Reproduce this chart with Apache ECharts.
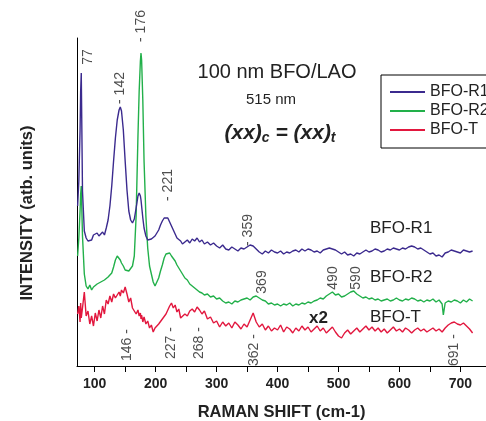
<!DOCTYPE html>
<html>
<head>
<meta charset="utf-8">
<script src="https://cdn.jsdelivr.net/npm/echarts@6/dist/echarts.min.js"></script>
<style>
  html, body { margin: 0; padding: 0; background: #fff; }
  #chart { width: 486px; height: 421px; }
</style>
</head>
<body>
<div id="chart"></div>
<script>
// Raman shift (cm-1)
const shift = [
  72, 74, 76, 77, 78, 80, 83, 86, 89, 92,
  95, 98, 101, 104, 107, 110, 113, 116, 119, 122,
  125, 128, 131, 134, 137, 140, 142, 144, 147, 150,
  153, 156, 159, 162, 165, 168, 171, 173, 175, 176,
  177, 179, 181, 184, 187, 190, 193, 196, 199, 202,
  205, 208, 211, 214, 217, 220, 223, 226, 229, 232,
  235, 238, 241, 244, 248, 252, 256, 260, 264, 268,
  272, 276, 280, 285, 290, 295, 300, 305, 310, 315,
  320, 325, 330, 335, 340, 345, 350, 355, 360, 365,
  370, 375, 380, 385, 390, 395, 400, 405, 410, 415,
  420, 425, 430, 435, 440, 445, 450, 455, 460, 465,
  470, 475, 480, 485, 490, 495, 500, 505, 510, 515,
  520, 525, 530, 535, 540, 545, 550, 555, 560, 565,
  570, 575, 580, 585, 590, 595, 600, 605, 610, 615,
  620, 625, 630, 635, 640, 645, 650, 655, 660, 665,
  670, 672, 675, 680, 685, 690, 695, 700, 705, 710,
  715, 720
]

// intensities (arb. units, curves offset as in the figure)
const bfoR1 = [
  160, 185, 235, 275, 293, 175, 135, 128, 125, 127,
  126, 131, 129, 133, 130, 128, 134, 131, 138, 146,
  160, 180, 205, 228, 246, 256, 259, 255, 236, 205,
  176, 155, 146, 143, 147, 158, 170, 173, 170, 166,
  160, 148, 138, 130, 126, 124, 127, 125, 130, 133,
  136, 141, 145, 148, 149, 148, 144, 140, 136, 132,
  128, 127, 125, 122, 124, 126, 123, 127, 125, 128,
  124, 126, 122, 124, 121, 123, 120, 118, 121, 117,
  116, 119, 117, 115, 118, 117, 119, 121, 120, 117,
  114, 112, 115, 113, 116, 114, 113, 115, 112, 114,
  113, 115, 116, 114, 117, 115, 117, 116, 114, 115,
  113, 116, 117, 118, 117, 116, 114, 112, 114, 111,
  112, 110, 113, 112, 114, 116, 114, 115, 117, 116,
  114, 115, 117, 116, 118, 117, 116, 118, 117, 119,
  120, 119, 117, 118, 116, 114, 112, 113, 110, 111,
  109, 111, 113, 114, 116, 115, 114, 113, 116, 115,
  114, 115
]

const bfoR2 = [
  110, 128, 155, 172, 180, 130, 92, 80, 77, 81,
  76, 79, 78, 82, 80, 84, 82, 86, 85, 89,
  88, 93, 99, 106, 110, 109, 106, 103, 100, 96,
  94, 95, 97, 100, 110, 150, 230, 275, 305, 313,
  306, 265, 205, 150, 118, 100, 92, 84, 80, 82,
  88, 95, 101, 108, 112, 114, 113, 110, 108, 105,
  101, 98, 95, 92, 88, 86, 82, 80, 78, 76,
  74, 73, 71, 72, 69, 70, 67, 68, 65, 63,
  64, 62, 65, 64, 66, 67, 68, 66, 69, 70,
  68, 66, 65, 62, 63, 61, 62, 60, 62, 61,
  63, 60, 62, 61, 63, 62, 64, 63, 65, 66,
  68, 67, 70, 72, 74, 71, 72, 69, 70, 72,
  74, 75, 72, 70, 68, 69, 67, 68, 66, 67,
  65, 66, 67, 65, 66, 68, 66, 65, 67, 66,
  68, 67, 65, 66, 64, 66, 65, 67, 64, 66,
  62, 51, 63, 65, 64, 66, 65, 63, 66, 64,
  67, 65
]

const bfoT = [
  52, 60, 44, 63, 48, 58, 74, 50, 55, 42,
  50, 40, 53, 45, 56, 48, 60, 52, 66, 62,
  70, 64, 72, 68, 66, 74, 70, 76, 73, 79,
  72, 64, 68, 58, 60, 52, 56, 50, 53, 47,
  51, 44, 49, 42, 45, 38, 41, 34, 38, 36,
  42, 40, 47, 45, 52, 56, 60, 63, 58, 61,
  54, 57, 48, 46, 52, 50, 55, 57, 54, 59,
  56, 52, 55, 47, 49, 43, 45, 39, 44, 40,
  43, 38, 44, 41, 37, 42, 39, 46, 53, 44,
  39, 42, 36, 40, 35, 38, 36, 41, 34, 39,
  37, 33, 38, 35, 40, 36, 39, 34, 37, 40,
  35, 38, 33, 36, 39, 34, 30, 28, 33, 36,
  32, 35, 38, 34, 37, 40, 36, 39, 35, 38,
  34, 37, 33, 36, 39, 35, 37, 34, 38, 36,
  33, 36, 38, 35, 37, 34, 36, 38, 35, 37,
  34, 36, 38, 41, 43, 44, 42, 41, 43, 40,
  37, 33
]

// peak annotations (text, shift, intensity)
const peakText = ['77', '- 142', '- 176', '- 221', '- 359', '369', '490', '590', '146 -', '227 -', '268 -', '362 -', '691 -']
const peakX = [90, 142, 177, 221, 352, 375, 492, 529, 154, 226, 272, 362, 690]
const peakY = [309, 278, 340, 181, 136, 84, 88, 88, 21, 23, 23, 16, 16]

const xTicks = [100, 150, 200, 250, 300, 350, 400, 450, 500, 550, 600, 650, 700]
const xLabels = [100, 200, 300, 400, 500, 600, 700]

const font = 'Liberation Sans'
const ink = '#222'

const pairs = (ys) => shift.map((x, i) => [x, ys[i]])

const chart = echarts.init(document.getElementById('chart'))

const lineSeries = (name, ys, color) => ({
  name: name,
  type: 'line',
  data: pairs(ys),
  symbol: 'none',
  smooth: false,
  lineStyle: { color: color, width: 1.4 },
  itemStyle: { color: color }
})

const option = {
  animation: false,
  textStyle: { fontFamily: font },
  grid: { left: 77, right: 0, top: 38, bottom: 55, containLabel: false, outerBoundsMode: 'none' },
  legend: {
    data: ['BFO-R1', 'BFO-R2', 'BFO-T'],
    orient: 'vertical',
    left: 381,
    top: 75,
    padding: [9, 60, 10, 9],
    itemGap: 3,
    itemWidth: 35,
    itemHeight: 14,
    icon: 'path://M0,0 L35,0 L35,2 L0,2 Z',
    borderColor: '#000',
    borderWidth: 1,
    textStyle: { fontFamily: font, fontSize: 16, color: ink, padding: [0, 0, 0, 0] }
  },
  xAxis: {
    type: 'value',
    min: 71,
    max: 742,
    name: 'RAMAN SHIFT (cm-1)',
    nameLocation: 'middle',
    nameGap: 38,
    nameTextStyle: { fontFamily: font, fontSize: 16.5, fontWeight: 'bold', color: ink },
    axisLine: { lineStyle: { color: '#000', width: 1 } },
    axisTick: { show: true, customValues: xTicks, length: 6, inside: false, lineStyle: { color: '#000' } },
    axisLabel: { customValues: xLabels, fontSize: 14, fontWeight: 'bold', color: ink, margin: 11, fontFamily: font },
    splitLine: { show: false }
  },
  yAxis: {
    type: 'value',
    min: 0,
    max: 328,
    axisLine: { show: true, lineStyle: { color: '#000', width: 1 } },
    axisTick: { show: false },
    axisLabel: { show: false },
    splitLine: { show: false }
  },
  graphic: [
    { type: 'text', x: 27, y: 213, rotation: Math.PI / 2, style: { text: 'INTENSITY (atb. units)', x: 0, y: 0, fontSize: 16.5, fontWeight: 'bold', fontFamily: font, fill: ink, align: 'center', verticalAlign: 'middle' } },
    { type: 'text', style: { text: '100 nm BFO/LAO', x: 277, y: 72, fontSize: 20, fontFamily: font, fill: ink, align: 'center', verticalAlign: 'middle' } },
    { type: 'text', style: { text: '515 nm', x: 271, y: 100, fontSize: 15, fontFamily: font, fill: ink, align: 'center', verticalAlign: 'middle' } },
    {
      type: 'text',
      style: {
        text: '{b|(xx)}{s|c}{b| = (xx)}{s|t}',
        x: 280, y: 133, align: 'center', verticalAlign: 'middle',
        rich: {
          b: { fontSize: 21, fontWeight: 'bold', fontStyle: 'italic', fontFamily: font, fill: ink },
          s: { fontSize: 14, fontWeight: 'bold', fontStyle: 'italic', fontFamily: font, fill: ink, padding: [10, 0, 0, 0] }
        }
      }
    },
    { type: 'text', style: { text: 'BFO-R1', x: 370, y: 228, fontSize: 17, fontFamily: font, fill: ink, verticalAlign: 'middle' } },
    { type: 'text', style: { text: 'BFO-R2', x: 370, y: 277, fontSize: 17, fontFamily: font, fill: ink, verticalAlign: 'middle' } },
    { type: 'text', style: { text: 'BFO-T', x: 370, y: 317, fontSize: 17, fontFamily: font, fill: ink, verticalAlign: 'middle' } },
    { type: 'text', style: { text: 'x2', x: 309, y: 318, fontSize: 17, fontWeight: 'bold', fontFamily: font, fill: ink, verticalAlign: 'middle' } }
  ],
  series: [
    lineSeries('BFO-T', bfoT, '#e2173e'),
    lineSeries('BFO-R2', bfoR2, '#22b04a'),
    lineSeries('BFO-R1', bfoR1, '#3b2a8e'),
    {
      type: 'scatter',
      data: peakText.map((t, i) => ({ name: t, value: [peakX[i], peakY[i]] })),
      symbolSize: 0,
      clip: false,
      silent: true,
      z: 5,
      label: {
        show: true,
        position: 'inside',
        rotate: 90,
        formatter: (p) => p.name,
        fontFamily: font,
        fontSize: 14,
        color: ink
      }
    }
  ]
}

chart.setOption(option)
</script>
</body>
</html>
